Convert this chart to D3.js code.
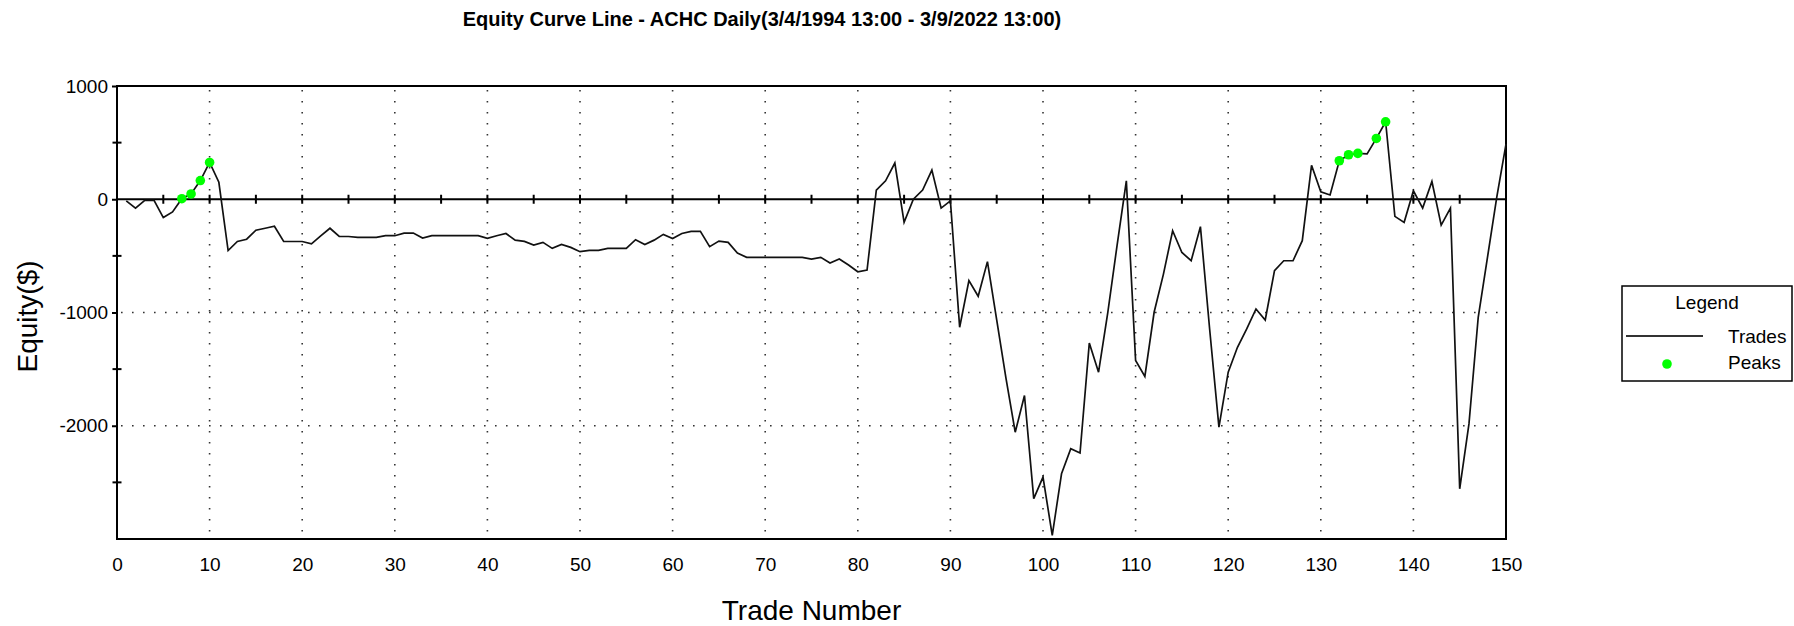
<!DOCTYPE html>
<html>
<head>
<meta charset="utf-8">
<script src="https://cdn.jsdelivr.net/npm/d3@7"></script>
<style>
  body { margin: 0; background: #fff; }
  svg text { font-family: "Liberation Sans", Arial, sans-serif; fill: #000; }
</style>
</head>
<body>
<div id="chart"></div>
<script>
var WIDTH = 1794;
var HEIGHT = 626;

// trade numbers 1..150 and equity after each trade
var trades = d3.range(1, 151);
var equity = [
    -15, -79, -10, -10, -162, -112, 5, 47, 165, 325,
    150, -453, -373, -353, -273, -256, -238, -373, -373, -373,
    -394, -323, -256, -329, -329, -337, -337, -337, -322, -322,
    -299, -299, -343, -322, -322, -322, -322, -322, -322, -346,
    -322, -302, -361, -372, -405, -381, -434, -399, -425, -463,
    -451, -451, -434, -434, -434, -357, -399, -361, -310, -346,
    -302, -284, -284, -419, -369, -381, -475, -513, -513, -513,
    -513, -513, -513, -513, -528, -513, -563, -528, -581, -640,
    -625, 81, 163, 320, -204, 0, 81, 257, -78, -15,
    -1130, -719, -857, -551, -1066, -1580, -2057, -1733, -2644, -2453,
    -2968, -2424, -2203, -2241, -1270, -1527, -998, -407, 163, -1424,
    -1565, -998, -663, -278, -470, -543, -242, -1150, -2012, -1527,
    -1307, -1145, -969, -1066, -630, -543, -543, -366, 300, 65,
    38, 340, 393, 405, 400, 537, 684, -151, -204, 75,
    -78, 157, -228, -78, -2557, -1984, -1042, -513, 16, 487
];
// trades that set a new equity high
var peakTrades = [7, 8, 9, 10, 132, 133, 134, 136, 137];

var xTicks = d3.range(0, 151, 10);
var xMinor = d3.range(5, 150, 5);
var yTicks = [1000, 0, -1000, -2000];
var yMinor = [500, -500, -1500, -2500];
var yGrid = [-1000, -2000];

var titleText = "Equity Curve Line - ACHC Daily(3/4/1994 13:00 - 3/9/2022 13:00)";
var legendItems = ["Trades", "Peaks"];

var plotLeft = 117, plotRight = 1506, plotTop = 86, plotBottom = 539;

var x = d3.scaleLinear().domain([0, 150]).range([plotLeft, plotRight]);
var y = d3.scaleLinear().domain([-3000, 1000]).range([plotBottom, plotTop]);

var svg = d3.select("#chart")
    .append("svg")
    .attr("width", WIDTH)
    .attr("height", HEIGHT);

svg.append("rect")
    .attr("width", WIDTH)
    .attr("height", HEIGHT)
    .attr("fill", "#fff");

// title
svg.append("text")
    .attr("x", 762)
    .attr("y", 26)
    .attr("text-anchor", "middle")
    .style("font-size", "20px")
    .style("font-weight", "bold")
    .text(titleText);

// dotted grid
var grid = svg.append("g");
grid.selectAll(".vgrid")
    .data(xTicks.filter(function (d) { return d > 0 && d < 150; }))
    .enter().append("line")
    .attr("x1", function (d) { return x(d); })
    .attr("x2", function (d) { return x(d); })
    .attr("y1", plotTop + 4)
    .attr("y2", plotBottom)
    .attr("stroke", "#333")
    .attr("stroke-width", 1.6)
    .attr("stroke-dasharray", "1.6,9.4");

grid.selectAll(".hgrid")
    .data(yGrid)
    .enter().append("line")
    .attr("x1", plotLeft + 4)
    .attr("x2", plotRight)
    .attr("y1", function (d) { return y(d); })
    .attr("y2", function (d) { return y(d); })
    .attr("stroke", "#333")
    .attr("stroke-width", 1.6)
    .attr("stroke-dasharray", "1.6,9.4");

// frame
svg.append("rect")
    .attr("x", plotLeft)
    .attr("y", plotTop)
    .attr("width", plotRight - plotLeft)
    .attr("height", plotBottom - plotTop)
    .attr("fill", "none")
    .attr("stroke", "#000")
    .attr("stroke-width", 2);

// zero line with ticks every 5 trades
svg.append("line")
    .attr("x1", plotLeft)
    .attr("x2", plotRight)
    .attr("y1", y(0))
    .attr("y2", y(0))
    .attr("stroke", "#000")
    .attr("stroke-width", 2);

svg.selectAll(".ztick")
    .data(xMinor)
    .enter().append("line")
    .attr("x1", function (d) { return x(d); })
    .attr("x2", function (d) { return x(d); })
    .attr("y1", y(0) - 4.5)
    .attr("y2", y(0) + 4.5)
    .attr("stroke", "#000")
    .attr("stroke-width", 2);

// y axis
var yAxis = svg.append("g")
    .attr("transform", "translate(" + plotLeft + ",0)")
    .call(d3.axisLeft(y)
        .tickValues(yTicks)
        .tickFormat(function (d) { return String(d); })
        .tickSize(5)
        .tickPadding(4));
yAxis.select(".domain").remove();
yAxis.selectAll("line").attr("stroke-width", 2);
yAxis.selectAll("text")
    .style("font-size", "19px")
    .style("font-family", "'Liberation Sans', Arial, sans-serif");

svg.selectAll(".ymin")
    .data(yMinor)
    .enter().append("line")
    .attr("x1", plotLeft - 4.5)
    .attr("x2", plotLeft + 4.5)
    .attr("y1", function (d) { return y(d); })
    .attr("y2", function (d) { return y(d); })
    .attr("stroke", "#000")
    .attr("stroke-width", 2);

// x labels along the bottom
var xAxis = svg.append("g")
    .attr("transform", "translate(0," + plotBottom + ")")
    .call(d3.axisBottom(x).tickValues(xTicks).tickSize(0).tickPadding(19));
xAxis.select(".domain").remove();
xAxis.selectAll("text")
    .style("font-size", "19px")
    .style("font-family", "'Liberation Sans', Arial, sans-serif");

// axis titles
svg.append("text")
    .attr("x", (plotLeft + plotRight) / 2)
    .attr("y", 620)
    .attr("text-anchor", "middle")
    .style("font-size", "28px")
    .text("Trade Number");

svg.append("text")
    .attr("transform", "translate(37," + ((plotTop + plotBottom) / 2 + 4) + ") rotate(-90)")
    .attr("text-anchor", "middle")
    .style("font-size", "28px")
    .text("Equity($)");

// equity line
var points = trades.map(function (t, i) { return [t, equity[i]]; });
var line = d3.line()
    .x(function (d) { return x(d[0]); })
    .y(function (d) { return y(d[1]); });

svg.append("path")
    .datum(points)
    .attr("d", line)
    .attr("fill", "none")
    .attr("stroke", "#111")
    .attr("stroke-width", 1.7);

// peaks
svg.selectAll(".peak")
    .data(peakTrades)
    .enter().append("circle")
    .attr("cx", function (d) { return x(d); })
    .attr("cy", function (d) { return y(equity[d - 1]); })
    .attr("r", 4.8)
    .attr("fill", "#00ff00");

// legend
var lg = svg.append("g").attr("transform", "translate(1622,286)");
lg.append("rect")
    .attr("width", 170)
    .attr("height", 95)
    .attr("fill", "#fff")
    .attr("stroke", "#000")
    .attr("stroke-width", 1.5);
lg.append("text")
    .attr("x", 85)
    .attr("y", 23)
    .attr("text-anchor", "middle")
    .style("font-size", "19px")
    .text("Legend");
lg.append("line")
    .attr("x1", 4)
    .attr("x2", 81)
    .attr("y1", 50)
    .attr("y2", 50)
    .attr("stroke", "#333")
    .attr("stroke-width", 2.2);
lg.append("circle")
    .attr("cx", 45)
    .attr("cy", 78)
    .attr("r", 4.8)
    .attr("fill", "#00ff00");
lg.selectAll(".ltext")
    .data(legendItems)
    .enter().append("text")
    .attr("x", 106)
    .attr("y", function (d, i) { return 57 + i * 26; })
    .style("font-size", "19px")
    .text(function (d) { return d; });
</script>
</body>
</html>
